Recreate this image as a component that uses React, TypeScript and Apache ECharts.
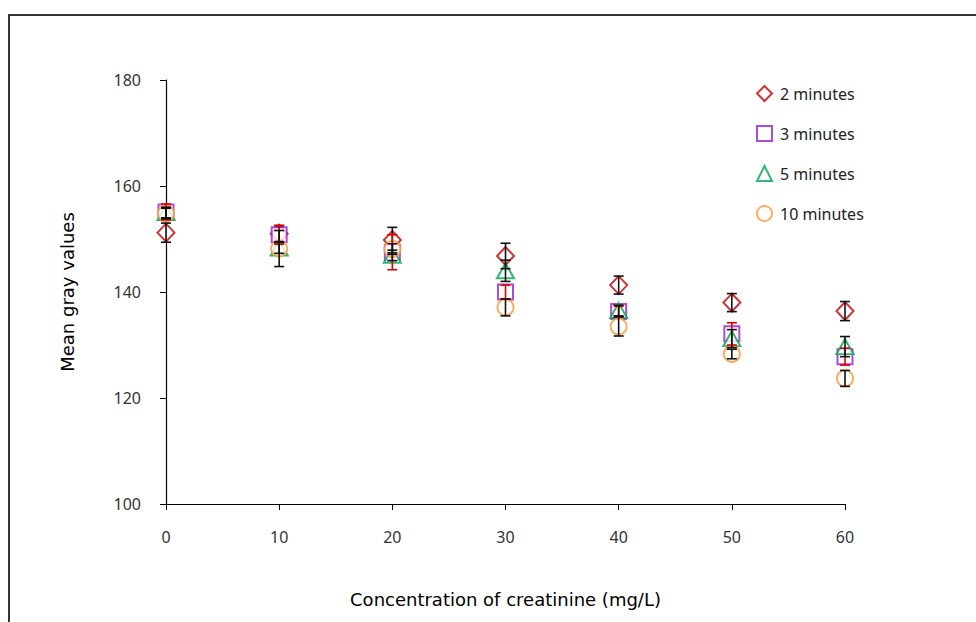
import React, { useEffect, useRef } from "react";
import * as echarts from "echarts";

const concentrations = [0, 10, 20, 30, 40, 50, 60];
const seriesNames = ["2 minutes", "3 minutes", "5 minutes", "10 minutes"];
const min2 = [151.2, 151.0, 149.8, 146.8, 141.3, 138.0, 136.4];
const min2Err = [1.8, 1.5, 2.4, 2.4, 1.7, 1.7, 1.8];
const min3 = [155.1, 150.8, 147.5, 140.0, 136.3, 132.1, 127.8];
const min3Err = [1.5, 1.8, 3.3, 1.3, 1.0, 2.1, 1.6];
const min5 = [155.0, 148.3, 146.9, 144.0, 136.5, 131.2, 129.7];
const min5Err = [1.0, 1.0, 1.0, 2.0, 1.0, 1.7, 1.9];
const min10 = [154.8, 148.2, 148.1, 137.1, 133.5, 128.3, 123.7];
const min10Err = [1.0, 3.4, 1.0, 1.6, 1.8, 0.9, 1.5];
const xTicks = [0, 10, 20, 30, 40, 50, 60];
const yTicks = [100, 120, 140, 160, 180];

const values = [min2, min3, min5, min10];
const errors = [min2Err, min3Err, min5Err, min10Err];
const colors = ["#C00000", "#9A1FCF", "#00A651", "#F79A3A"];
const errColors = ["#111111", "#E00000", "#111111", "#111111"];
const symbols = ["emptyDiamond", "emptyRect", "emptyTriangle", "emptyCircle"];
const sizes = [[17, 18], [15, 15], [17, 15], [16, 16]];

export default function App() {
  const ref = useRef<HTMLDivElement>(null);
  useEffect(() => {
    if (!ref.current) return;
    const chart = echarts.init(ref.current, null, { renderer: "svg" });
    const scatter = values.map((vals, i) => ({
      name: seriesNames[i],
      type: "scatter",
      symbol: symbols[i],
      symbolSize: sizes[i],
      data: vals.map((v, j) => [concentrations[j], v]),
      itemStyle: { color: colors[i], borderColor: colors[i], borderWidth: 2.2 },
      z: 2 + i,
    }));
    const errSeries = values.map((vals, i) => ({
      name: seriesNames[i] + " err",
      type: "custom",
      data: vals.map((v, j) => [concentrations[j], v, errors[i][j]]),
      encode: { x: 0, y: 1 },
      clip: false,
      z: 10 + i,
      renderItem: (params: any, api: any) => {
        const x = api.value(0);
        const y = api.value(1);
        const e = api.value(2);
        const top = api.coord([x, y + e]);
        const bot = api.coord([x, y - e]);
        const hw = 5;
        const style = { stroke: errColors[i], lineWidth: 1.6 };
        return {
          type: "group",
          children: [
            { type: "line", shape: { x1: top[0], y1: top[1], x2: bot[0], y2: bot[1] }, style },
            { type: "line", shape: { x1: top[0] - hw, y1: top[1], x2: top[0] + hw, y2: top[1] }, style },
            { type: "line", shape: { x1: bot[0] - hw, y1: bot[1], x2: bot[0] + hw, y2: bot[1] }, style },
          ],
        };
      },
    }));
    chart.setOption({
      animation: false,
      backgroundColor: "#ffffff",
      grid: { left: 166, right: 131, top: 80, bottom: 118, containLabel: false },
      graphic: [
        {
          type: "rect",
          shape: { x: 9, y: 15, width: 1000, height: 700 },
          style: { fill: "none", stroke: "#333333", lineWidth: 2 },
          silent: true,
        },
      ],
      legend: {
        data: seriesNames,
        orient: "vertical",
        left: 751,
        top: 80,
        itemGap: 23,
        itemWidth: 15,
        itemHeight: 15,
        textStyle: { fontFamily: "Noto Sans", fontSize: 16, color: "#222222", padding: [0, 0, 0, 3] },
      },
      xAxis: {
        type: "value",
        min: 0,
        max: 60,
        interval: 10,
        axisLine: { show: true, lineStyle: { color: "#000000", width: 1.2 } },
        axisTick: { show: true, length: 6, lineStyle: { color: "#000000" } },
        splitLine: { show: false },
        axisLabel: {
          margin: 25,
          fontFamily: "Noto Sans",
          fontSize: 16,
          color: "#333333",
          formatter: (v: number) => (xTicks.includes(v) ? String(v) : ""),
        },
        name: "Concentration of creatinine (mg/L)",
        nameLocation: "middle",
        nameGap: 86,
        nameTextStyle: { fontFamily: "DejaVu Sans", fontSize: 18, color: "#000000" },
      },
      yAxis: {
        type: "value",
        min: 100,
        max: 180,
        interval: 20,
        axisLine: { show: true, lineStyle: { color: "#000000", width: 1.2 } },
        axisTick: { show: true, length: 6, lineStyle: { color: "#000000" } },
        splitLine: { show: false },
        axisLabel: {
          margin: 25,
          fontFamily: "Noto Sans",
          fontSize: 16,
          color: "#333333",
          formatter: (v: number) => (yTicks.includes(v) ? String(v) : ""),
        },
        name: "Mean gray values",
        nameLocation: "middle",
        nameGap: 90,
        nameTextStyle: { fontFamily: "DejaVu Sans", fontSize: 18, color: "#000000" },
      },
      series: [...scatter, ...errSeries],
    });
    return () => chart.dispose();
  }, []);
  return (
    <div
      ref={ref}
      style={{ position: "absolute", left: 0, top: 0, width: 976, height: 622 }}
    />
  );
}
